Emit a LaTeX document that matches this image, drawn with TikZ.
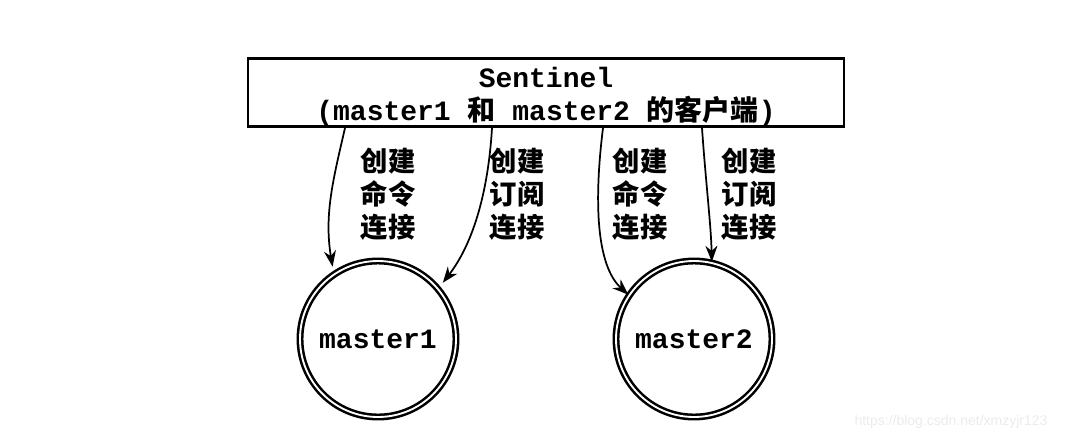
\documentclass[tikz,border=0pt]{standalone}
\usepackage{fontspec}
\setmonofont{Liberation Mono}
\newfontfamily\cjk{Noto Sans CJK SC}
\newfontfamily\wmfont{Liberation Sans}
\usetikzlibrary{positioning,arrows.meta}

\begin{document}
\begin{tikzpicture}[x=0.75pt,y=-0.75pt,
  sentbox/.style={draw,line width=2.2pt,minimum width=447pt,minimum height=51.5pt,
    align=center,font=\fontsize{21}{24.75}\selectfont\ttfamily\bfseries,inner sep=0pt},
  masternode/.style={draw,circle,line width=1.9pt,double,double distance=1.4pt,
    minimum size=117pt,inner sep=0pt,font=\fontsize{21}{24}\selectfont\ttfamily\bfseries},
  lbl/.style={align=center,font=\fontsize{20.5}{24.75}\selectfont\cjk\bfseries,inner sep=0pt},
  conn/.style={line width=1.3pt,-{Stealth[length=12pt,width=9pt]}}]

\useasboundingbox (0,0) rectangle (1068,440);

% sentinel and the two masters
\node[sentbox] (sent) at (546,92.5) {\rule{0pt}{22pt}Sentinel\\(master1\ {\cjk 和}\ master2\ {\cjk 的客户端})};
\node[masternode] (m1) at (378,339) {master1};
\node[masternode] (m2) at (694,339) {master2};

% start points on the bottom of the box
\coordinate (s1) at (345,128);
\coordinate (s2) at (492,128);
\coordinate (s3) at (603,128);
\coordinate (s4) at (702,128);

\draw[conn,shorten >=5pt] (s1) .. controls (333,180) and (324,215) .. (m1.124);
\draw[conn,shorten >=5pt] (s2) .. controls (488,195) and (472,245) .. (m1.40);
\draw[conn] (s3) .. controls (594,200) and (596,265) .. (m2.146);
\draw[conn] (s4) .. controls (706,185) and (711,225) .. (m2.77);

% labels
\node[lbl] (l1) at (388,194) {创建\\命令\\连接};
\node[lbl] (l2) at (517,194) {创建\\订阅\\连接};
\node[lbl] (l3) at (640,194) {创建\\命令\\连接};
\node[lbl] (l4) at (749,194) {创建\\订阅\\连接};

\node[text=black!8,font=\fontsize{10.5}{12}\selectfont\wmfont] (wm) at (951,422) {https://blog.csdn.net/xmzyjr123};

\end{tikzpicture}
\end{document}
